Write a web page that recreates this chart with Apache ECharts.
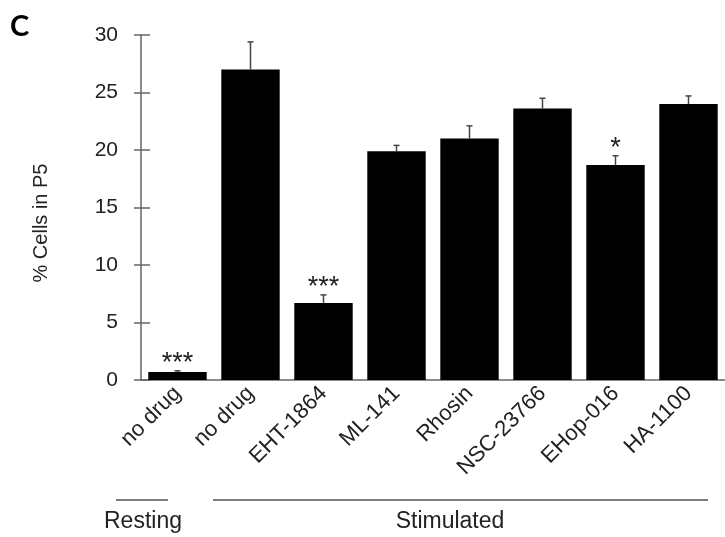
<!DOCTYPE html>
<html>
<head>
<meta charset="utf-8">
<script src="https://cdn.jsdelivr.net/npm/echarts@6/dist/echarts.min.js"></script>
<style>
html,body{margin:0;padding:0;background:#fff;}
#chart{width:725px;height:537px;}
</style>
</head>
<body>
<div id="chart"></div>
<script>
// bar data
var categories=['no drug','no drug','EHT-1864','ML-141','Rhosin','NSC-23766','EHop-016','HA-1100'];
var cellValues=[0.7,27.0,6.7,19.9,21.0,23.6,18.7,24.0];
var errValues=[0.1,2.4,0.7,0.5,1.1,0.9,0.8,0.7];
var sigMarks=['***','','***','','','','*',''];
var yTicks=[0,5,10,15,20,25,30];

var axisColor='#666';
var textColor='#222';
var font='"Liberation Sans", Arial, sans-serif';

function renderErr(params,api){
	var i=api.value(0),v=api.value(1),e=api.value(2);
	var base=api.coord([i,v]);
	var top=api.coord([i,v+e]);
	var style={stroke:'#444',lineWidth:1.5};
	var kids=[
		{type:'line',shape:{x1:base[0],y1:base[1],x2:top[0],y2:top[1]},style:style},
		{type:'line',shape:{x1:top[0]-3,y1:top[1],x2:top[0]+3,y2:top[1]},style:style}
	];
	var s=sigMarks[params.dataIndex];
	if(s){
		kids.push({type:'text',x:top[0],y:top[1]-7,style:{text:s,fill:textColor,font:'27px '+font,align:'center',verticalAlign:'middle'}});
	}
	return {type:'group',children:kids};
}

var myChart=echarts.init(document.getElementById('chart'));
var option={
	animation:false,
	grid:{left:141,right:-3,top:35,bottom:157,containLabel:false},
	xAxis:[{
		type:'category',
		data:categories,
		axisLine:{lineStyle:{color:axisColor,width:1.5}},
		axisTick:{length:7,lineStyle:{color:axisColor,width:1.5}},
		axisLabel:{interval:0,rotate:45,margin:10,color:textColor,fontSize:22,fontFamily:font}
	},{
		type:'category',
		data:categories,
		position:'bottom',
		axisLine:{show:false},
		axisTick:{inside:true,length:8,lineStyle:{color:axisColor,width:1.5}},
		axisLabel:{show:false}
	}],
	yAxis:[{
		type:'value',
		min:yTicks[0],
		max:yTicks[yTicks.length-1],
		interval:5,
		splitLine:{show:false},
		axisLine:{show:true,lineStyle:{color:axisColor,width:1.5}},
		axisTick:{show:true,length:7,lineStyle:{color:axisColor,width:1.5}},
		axisLabel:{margin:23,color:textColor,fontSize:21,fontFamily:font}
	},{
		type:'value',
		position:'left',
		min:yTicks[0],
		max:yTicks[yTicks.length-1],
		interval:5,
		splitLine:{show:false},
		axisLine:{show:false},
		axisTick:{show:true,inside:true,length:9,lineStyle:{color:axisColor,width:1.5}},
		axisLabel:{show:false}
	}],
	graphic:[
		{type:'text',left:10,top:12,style:{text:'C',font:'bold 29px Lato, "Liberation Sans", sans-serif',fill:'#000'}},
		{type:'text',x:41,y:223,rotation:Math.PI/2,style:{text:'% Cells in P5',font:'20px '+font,fill:textColor,align:'center',verticalAlign:'middle'}},
		{type:'line',shape:{x1:116,y1:500,x2:168,y2:500},style:{stroke:'#555',lineWidth:1.5}},
		{type:'line',shape:{x1:213,y1:500,x2:708,y2:500},style:{stroke:'#555',lineWidth:1.5}},
		{type:'text',x:143,y:522,style:{text:'Resting',font:'23px '+font,fill:textColor,align:'center',verticalAlign:'middle'}},
		{type:'text',x:450,y:522,style:{text:'Stimulated',font:'23px '+font,fill:textColor,align:'center',verticalAlign:'middle'}}
	],
	series:[{
		type:'bar',
		data:cellValues,
		barCategoryGap:'20%',
		itemStyle:{color:'#000'}
	},{
		type:'custom',
		renderItem:renderErr,
		data:cellValues.map(function(v,i){return [i,v,errValues[i]];}),
		encode:{x:0,y:1},
		z:3
	}]
};
myChart.setOption(option);
</script>
</body>
</html>
